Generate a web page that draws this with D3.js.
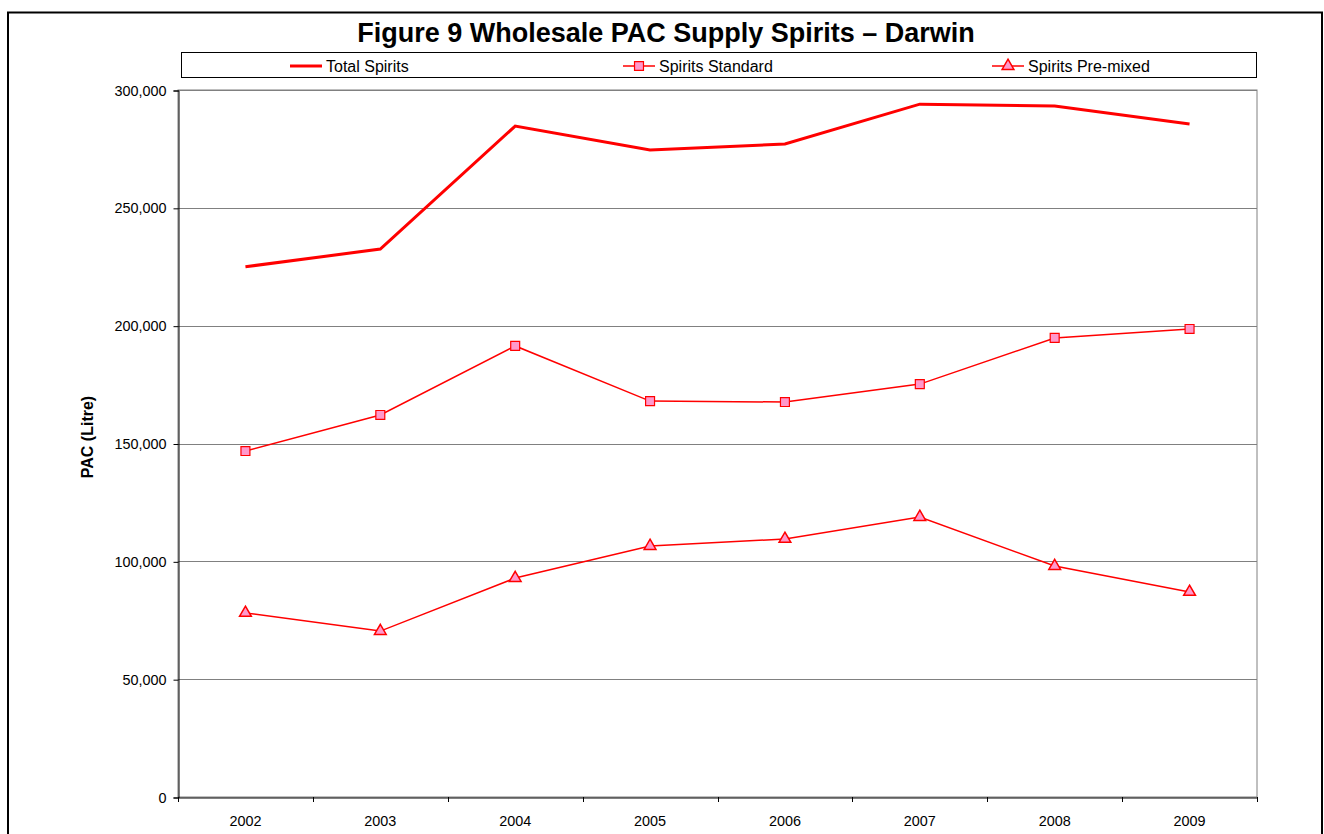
<!DOCTYPE html>
<html>
<head>
<meta charset="utf-8">
<script src="https://cdn.jsdelivr.net/npm/d3@7"></script>
<style>
html,body{margin:0;padding:0;background:#fff;overflow:hidden;}
svg{display:block;font-family:"Liberation Sans",Arial,sans-serif;}
</style>
</head>
<body>
<svg id="chart" width="1324" height="834"></svg>
<script>
const years = ["2002","2003","2004","2005","2006","2007","2008","2009"];
const totalSpirits = [225000, 232500, 284700, 274500, 277100, 294000, 293200, 285600];
const spiritsStandard = [146800, 162100, 191400, 168000, 167600, 175200, 194800, 198600];
const spiritsPremixed = [78100, 70400, 92900, 106500, 109500, 118800, 98000, 87000];
const yTicks = [0, 50000, 100000, 150000, 200000, 250000, 300000];
const seriesNames = ["Total Spirits", "Spirits Standard", "Spirits Pre-mixed"];
const titleText = "Figure 9 Wholesale PAC Supply Spirits \u2013 Darwin";
const yLabel = "PAC (Litre)";

const svg = d3.select("#chart");
const red = "#ff0000", pink = "#ff99cc";
const font = "Liberation Sans, Arial, sans-serif";

// outer border
svg.append("path").attr("d","M8,900 V12.5 H1322 V900").attr("fill","none").attr("stroke","#000").attr("stroke-width",2);

const plot = {left:178, right:1257, top:90, bottom:797};
const x = d3.scaleBand().domain(years).range([plot.left, plot.right]).padding(0);
const y = d3.scaleLinear().domain([0,300000]).range([plot.bottom, plot.top]);

// plot area frame
svg.append("rect").attr("x",plot.left).attr("y",plot.top).attr("width",plot.right-plot.left).attr("height",plot.bottom-plot.top)
  .attr("fill","#fff").attr("stroke","#808080").attr("stroke-width",1);

// gridlines
svg.append("g").selectAll("line").data(yTicks.filter(d=>d>0)).join("line")
  .attr("x1",plot.left).attr("x2",plot.right)
  .attr("y1",d=>Math.round(y(d))+0.5).attr("y2",d=>Math.round(y(d))+0.5)
  .attr("stroke","#808080").attr("stroke-width",1);

// y axis
const yAxis = d3.axisLeft(y).tickValues(yTicks).tickFormat(d3.format(",")).tickSize(5).tickPadding(7);
const gy = svg.append("g").attr("transform",`translate(${plot.left+0.5},0.5)`).call(yAxis);
gy.select(".domain").attr("stroke","#000");
gy.selectAll(".tick line").attr("stroke","#000");
gy.selectAll("text").attr("font-size",14.4).attr("fill","#000").attr("font-family",font);

// x axis
const xAxis = d3.axisBottom(x).tickSize(0).tickPadding(18);
const gx = svg.append("g").attr("transform",`translate(0,${plot.bottom+0.5})`).call(xAxis);
gx.select(".domain").attr("stroke","#000");
gx.selectAll("text").attr("font-size",14.4).attr("fill","#000").attr("font-family",font);
// x boundary ticks
const bounds = years.map(d=>x(d)).concat([x(years[years.length-1])+x.bandwidth()]);
svg.append("g").selectAll("line").data(bounds).join("line")
  .attr("x1",d=>Math.round(d)+0.5).attr("x2",d=>Math.round(d)+0.5)
  .attr("y1",plot.bottom).attr("y2",plot.bottom+5).attr("stroke","#000");

const cx = d => x(d) + x.bandwidth()/2;
const line = d3.line().x((d,i)=>cx(years[i])).y(d=>y(d));

svg.append("path").datum(totalSpirits).attr("d",line).attr("fill","none").attr("stroke",red).attr("stroke-width",3);
svg.append("path").datum(spiritsStandard).attr("d",line).attr("fill","none").attr("stroke",red).attr("stroke-width",1.5);
svg.append("path").datum(spiritsPremixed).attr("d",line).attr("fill","none").attr("stroke",red).attr("stroke-width",1.5);

const sq = d3.symbol().type(d3.symbolSquare).size(80);
const tri = d3.symbol().type(d3.symbolTriangle).size(60);

svg.append("g").selectAll("path").data(spiritsStandard).join("path")
  .attr("d",sq).attr("transform",(d,i)=>`translate(${cx(years[i])},${y(d)})`)
  .attr("fill",pink).attr("stroke",red).attr("stroke-width",1.2);
svg.append("g").selectAll("path").data(spiritsPremixed).join("path")
  .attr("d",tri).attr("transform",(d,i)=>`translate(${cx(years[i])},${y(d)})`)
  .attr("fill",pink).attr("stroke",red).attr("stroke-width",1.5);

// title
svg.append("text").attr("x",666).attr("y",42).attr("text-anchor","middle")
  .attr("font-size",27).attr("font-weight","bold").text(titleText);

// y label
svg.append("text").attr("transform","translate(93,437) rotate(-90)").attr("text-anchor","middle")
  .attr("font-size",16).attr("font-weight","bold").text(yLabel);

// legend
svg.append("rect").attr("x",181.5).attr("y",52.5).attr("width",1075).attr("height",25)
  .attr("fill","#fff").attr("stroke","#000").attr("stroke-width",1);
const legX = [290, 623, 992];
const lg = svg.append("g");
seriesNames.forEach((name,i)=>{
  const g = lg.append("g").attr("transform",`translate(${legX[i]},66)`);
  g.append("line").attr("x1",0).attr("x2",32).attr("y1",0).attr("y2",0).attr("stroke",red).attr("stroke-width",i===0?3:1.5);
  if(i===1) g.append("path").attr("d",sq).attr("transform","translate(16,0)").attr("fill",pink).attr("stroke",red).attr("stroke-width",1.2);
  if(i===2) g.append("path").attr("d",tri).attr("transform","translate(16,0)").attr("fill",pink).attr("stroke",red).attr("stroke-width",1.5);
  g.append("text").attr("x",36).attr("y",6).attr("font-size",16).text(name);
});
</script>
</body>
</html>
